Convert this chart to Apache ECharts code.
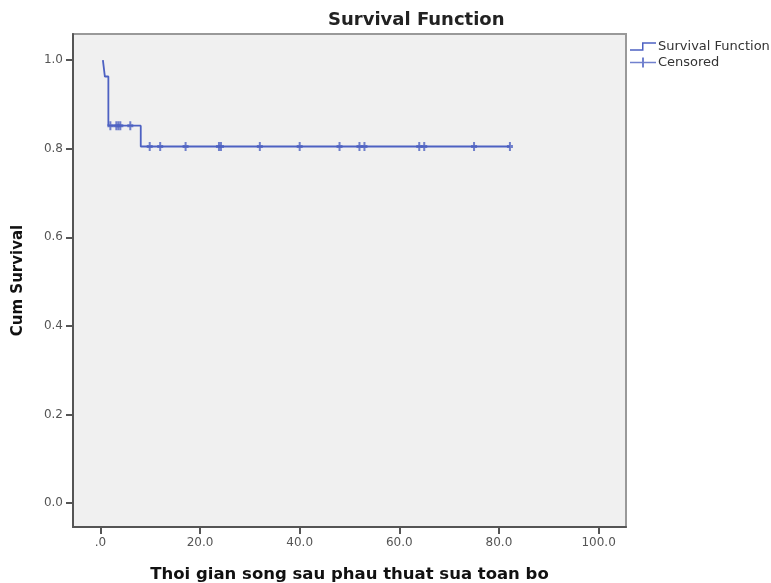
<!DOCTYPE html>
<html>
<head>
<meta charset="utf-8">
<script src="https://cdn.jsdelivr.net/npm/echarts@6/dist/echarts.min.js"></script>
<style>
  html, body { margin: 0; padding: 0; background: #fff; }
  #chart { width: 771px; height: 583px; }
</style>
</head>
<body>
<div id="chart"></div>
<script>
// Kaplan-Meier step points (time, cumulative survival)
const stepTimes = [0.5, 0.9, 1.6, 8.1, 82.2]
const stepSurvival = [1.0, 0.963, 0.852, 0.805, 0.805]

// censored observations
const censoredTimes = [2.0, 3.2, 3.6, 4.0, 6.0, 9.9, 12.0, 17.1, 23.8, 24.2, 32.0, 40.0, 48.0, 52.0, 53.0, 64.0, 65.0, 75.0, 82.2]
const censoredSurvival = [0.852, 0.852, 0.852, 0.852, 0.852, 0.805, 0.805, 0.805, 0.805, 0.805, 0.805, 0.805, 0.805, 0.805, 0.805, 0.805, 0.805, 0.805, 0.805]

const xTicks = [0, 20, 40, 60, 80, 100]
const xTickLabels = ['.0', '20.0', '40.0', '60.0', '80.0', '100.0']
const yTicks = [0, 0.2, 0.4, 0.6, 0.8, 1.0]
const yTickLabels = ['0.0', '0.2', '0.4', '0.6', '0.8', '1.0']

const lineColor = '#4d61c2'
const plusIcon = 'path://M2,0 H4 V3 H6 V6 H4 V9 H2 V6 H0 V3 H2 Z'

const chart = echarts.init(document.getElementById('chart'))

const axisCommon = {
  axisLine: { onZero: false, lineStyle: { color: '#555', width: 2 } },
  axisTick: { show: true, inside: false, length: 7, lineStyle: { color: '#555', width: 2 } },
  splitLine: { show: false },
  nameTextStyle: { color: '#111', fontWeight: 'bold', fontFamily: 'DejaVu Sans' }
}

const option = {
  animation: false,
  backgroundColor: '#fff',
  title: {
    text: 'Survival Function',
    left: 323,
    top: 6,
    textStyle: { color: '#222', fontSize: 18, fontWeight: 'bold', fontFamily: 'DejaVu Sans' }
  },
  legend: {
    orient: 'vertical',
    left: 630,
    top: 40,
    padding: 0,
    itemWidth: 26,
    itemHeight: 10,
    itemGap: 3,
    textStyle: { color: '#333', fontSize: 13, fontFamily: 'DejaVu Sans', padding: [0, 0, 0, -3] },
    data: [
      { name: 'Survival Function', icon: 'path://M0,8 H12 V1 H26 V2.5 H13.5 V9.5 H0 Z', itemStyle: { color: lineColor } },
      { name: 'Censored', icon: 'path://M0,4.3 H12 V0 H14 V4.3 H26 V5.7 H14 V10 H12 V5.7 H0 Z', itemStyle: { color: lineColor } }
    ]
  },
  grid: {
    left: 73,
    right: 145,
    top: 34,
    bottom: 56,
    outerBoundsMode: 'none',
    show: true,
    backgroundColor: '#f0f0f0',
    borderColor: '#999',
    borderWidth: 2
  },
  xAxis: {
    ...axisCommon,
    type: 'value',
    min: -5.5,
    max: 105.5,
    name: 'Thoi gian song sau phau thuat sua toan bo',
    nameLocation: 'middle',
    nameGap: 39,
    nameTextStyle: { ...axisCommon.nameTextStyle, fontSize: 16.5 },
    axisTick: { ...axisCommon.axisTick, customValues: xTicks },
    axisLabel: {
      customValues: xTicks,
      color: '#555',
      fontSize: 12,
      fontFamily: 'DejaVu Sans',
      margin: 10,
      formatter: (v) => xTickLabels[xTicks.indexOf(v)]
    }
  },
  yAxis: {
    ...axisCommon,
    type: 'value',
    min: -0.054,
    max: 1.059,
    name: 'Cum Survival',
    nameLocation: 'middle',
    nameGap: 47,
    nameTextStyle: { ...axisCommon.nameTextStyle, fontSize: 15 },
    axisTick: { ...axisCommon.axisTick, customValues: yTicks },
    axisLabel: {
      customValues: yTicks,
      color: '#555',
      fontSize: 12,
      fontFamily: 'DejaVu Sans',
      margin: 10,
      formatter: (v) => yTickLabels[yTicks.findIndex(t => Math.abs(t - v) < 1e-6)]
    }
  },
  series: [
    {
      name: 'Survival Function',
      type: 'line',
      step: 'end',
      showSymbol: false,
      data: stepTimes.map((t, i) => [t, stepSurvival[i]]),
      lineStyle: { color: lineColor, width: 1.8 },
      itemStyle: { color: lineColor }
    },
    {
      name: 'Censored',
      type: 'scatter',
      symbol: plusIcon,
      symbolSize: [6, 9],
      data: censoredTimes.map((t, i) => [t, censoredSurvival[i]]),
      itemStyle: { color: lineColor }
    }
  ]
}

chart.setOption(option)
</script>
</body>
</html>
